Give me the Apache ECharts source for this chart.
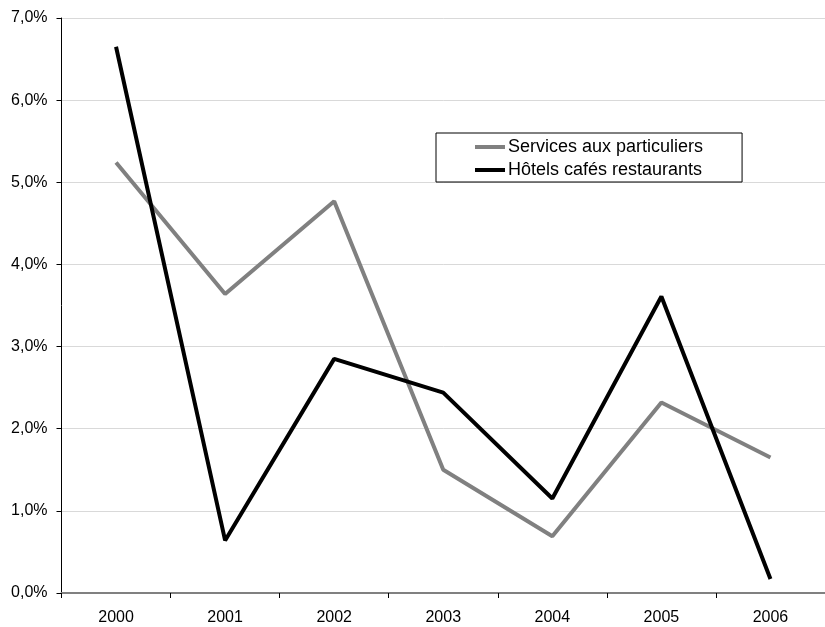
<!DOCTYPE html>
<html>
<head>
<meta charset="utf-8">
<script src="https://cdn.jsdelivr.net/npm/echarts@6/dist/echarts.min.js"></script>
<style>html,body{margin:0;padding:0;background:#fff;}#c{width:825px;height:627px;}</style>
</head>
<body>
<div id="c"></div>
<script>
var categories = ['2000', '2001', '2002', '2003', '2004', '2005', '2006'];
var services = [5.24, 3.64, 4.77, 1.50, 0.69, 2.32, 1.65];
var hotels = [6.65, 0.64, 2.85, 2.44, 1.15, 3.61, 0.17];
var seriesNames = ['Services aux particuliers', 'Hôtels cafés restaurants'];

var chart = echarts.init(document.getElementById('c'), null, {renderer: 'canvas'});
var font = 'Liberation Sans, Arial, sans-serif';
chart.setOption({
  animation: false,
  backgroundColor: '#ffffff',
  grid: {left: 61.5, top: 18, width: 770, height: 575, containLabel: false},
  legend: {
    orient: 'vertical',
    left: 436,
    top: 133,
    padding: [5, 39, 3, 39],
    itemGap: 5,
    itemWidth: 30,
    itemHeight: 4,
    icon: 'rect',
    borderColor: '#000',
    borderWidth: 1,
    textStyle: {fontFamily: font, fontSize: 18, color: '#000', lineHeight: 18, padding: [0, 0, 0, -2]},
    data: seriesNames
  },
  xAxis: {
    type: 'category',
    data: categories,
    boundaryGap: true,
    axisLine: {lineStyle: {color: '#808080', width: 2}},
    axisTick: {show: true, length: 5, lineStyle: {color: '#000', width: 1}},
    axisLabel: {fontFamily: font, fontSize: 16, color: '#000', margin: 17},
    splitLine: {show: false}
  },
  yAxis: {
    type: 'value',
    min: 0, max: 7, interval: 1,
    axisLine: {show: true, lineStyle: {color: '#000', width: 1}},
    axisTick: {show: true, length: 5, lineStyle: {color: '#000'}},
    axisLabel: {fontFamily: font, fontSize: 16, color: '#000', margin: 14,
      formatter: function (v) { return v.toFixed(1).replace('.', ',') + '%'; }},
    splitLine: {show: true, lineStyle: {color: '#d9d9d9', width: 1}}
  },
  series: [
    {name: seriesNames[0], type: 'line', data: services, symbol: 'none',
      lineStyle: {color: '#808080', width: 4}, itemStyle: {color: '#808080'}, z: 2},
    {name: seriesNames[1], type: 'line', data: hotels, symbol: 'none',
      lineStyle: {color: '#000000', width: 4}, itemStyle: {color: '#000000'}, z: 3}
  ]
});
</script>
</body>
</html>
